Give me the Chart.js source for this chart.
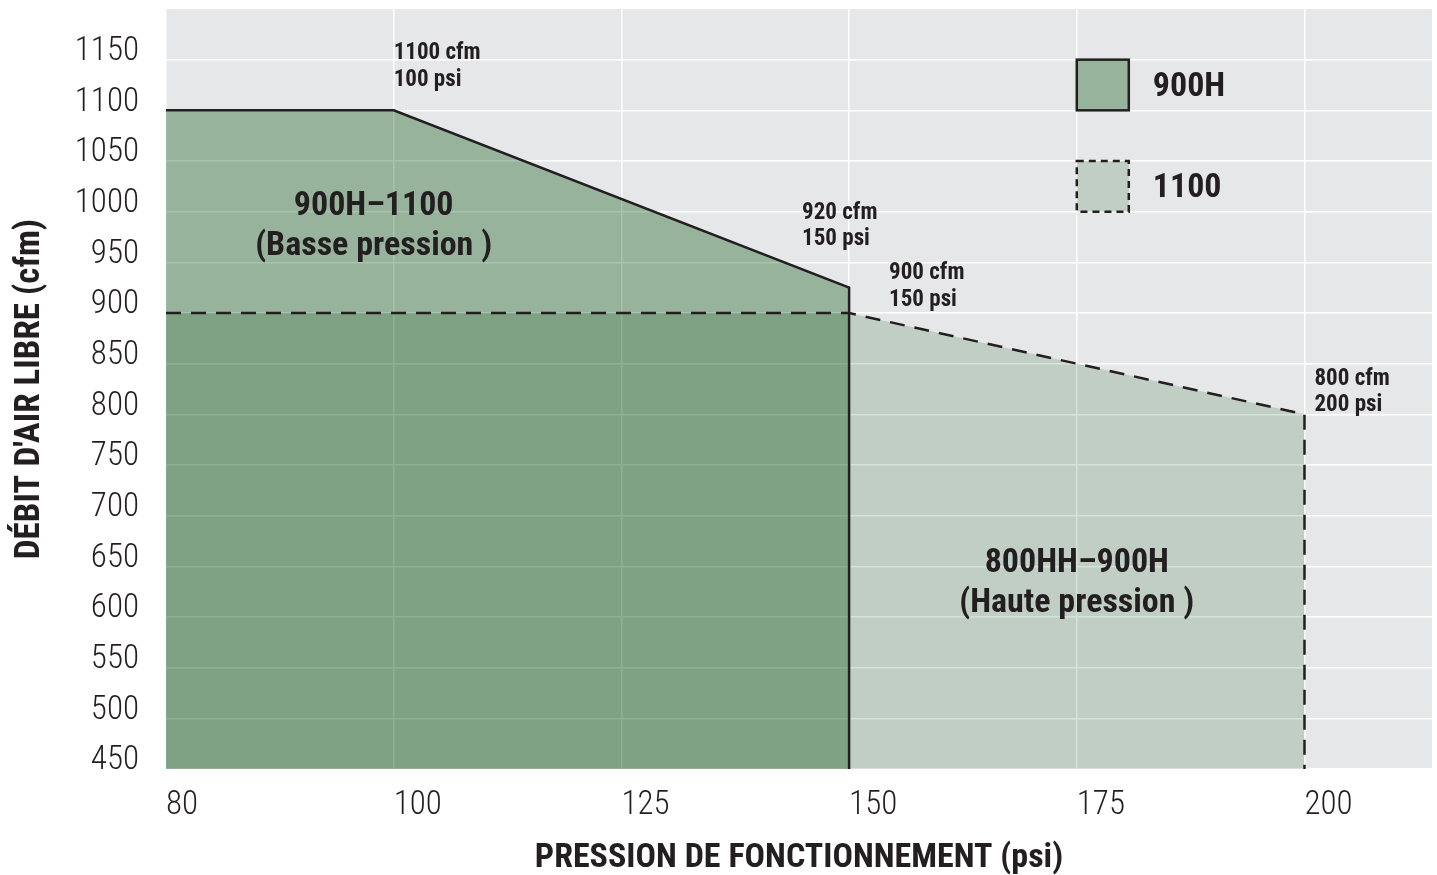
<!DOCTYPE html>
<html lang="fr">
<head>
  <meta charset="UTF-8">
  <title>Débit d'air libre / pression de fonctionnement</title>
  <script src="https://cdn.jsdelivr.net/npm/chart.js"></script>
  <style>
    html, body {
      margin: 0;
      padding: 0;
      background: #ffffff;
    }
    canvas {
      display: block;
    }
  </style>
</head>
<body>
  <canvas id="debitChart" width="1437" height="875"></canvas>

  <script>
    // values
    const pression900H = [75, 100, 150, 150];
    const debit900H = [1100, 1100, 925, 450];
    const pression1100 = [75, 150, 200, 200];
    const debit1100 = [900, 900, 800, 450];
    const seriesNames = ['900H', '1100'];

    const xTicks = [75, 100, 125, 150, 175, 200];
    const xTickLabels = ['80', '100', '125', '150', '175', '200'];
    const yTicks = [450, 500, 550, 600, 650, 700, 750, 800, 850, 900, 950, 1000, 1050, 1100, 1150];

    const INK = '#231f20';
    const FONT = '"Roboto Condensed", "DejaVu Sans Condensed", sans-serif';
    const fill900H = 'rgba(6, 84, 15, 0.35)';
    const fill1100 = 'rgba(6, 84, 15, 0.17)';

    function toPoints(xs, ys) {
      return xs.map((x, i) => ({ x: x, y: ys[i] }));
    }

    // grey plot background
    const plotBackground = {
      id: 'plotBackground',
      beforeDraw(chart) {
        const { ctx, chartArea: a } = chart;
        ctx.save();
        ctx.fillStyle = '#e6e7e9';
        ctx.fillRect(a.left, a.top, a.right - a.left, a.bottom - a.top);
        ctx.restore();
      }
    };

    // point labels, zone labels and the boxed legend
    const notes = {
      id: 'notes',
      afterDatasetsDraw(chart) {
        const { ctx, scales: { x, y } } = chart;
        ctx.save();
        ctx.fillStyle = INK;
        ctx.textBaseline = 'middle';

        const small = [
          { at: [100, 1100], dx: 0, dy: [-57, -30], lines: ['1100 cfm', '100 psi'] },
          { at: [150, 925], dx: -47, dy: [-74, -48], lines: ['920 cfm', '150 psi'] },
          { at: [150, 900], dx: 40, dy: [-40, -13], lines: ['900 cfm', '150 psi'] },
          { at: [200, 800], dx: 10, dy: [-35, -9], lines: ['800 cfm', '200 psi'] }
        ];
        ctx.font = 'bold 23px ' + FONT;
        ctx.textAlign = 'left';
        small.forEach(n => {
          const px = x.getPixelForValue(n.at[0]);
          const py = y.getPixelForValue(n.at[1]);
          n.lines.forEach((t, i) => ctx.fillText(t, px + n.dx, py + n.dy[i]));
        });

        const zones = [
          { at: [97.8, 988], lines: ['900H\u20131100', '(Basse pression )'] },
          { at: [175, 636], lines: ['800HH\u2013900H', '(Haute pression )'] }
        ];
        ctx.font = 'bold 34px ' + FONT;
        ctx.textAlign = 'center';
        zones.forEach(z => {
          const px = x.getPixelForValue(z.at[0]);
          const py = y.getPixelForValue(z.at[1]);
          ctx.fillText(z.lines[0], px, py - 17);
          ctx.fillText(z.lines[1], px, py + 23);
        });

        // legend
        const lx = x.getPixelForValue(175);
        const boxes = [
          { top: 1150, bottom: 1100, fill: fill900H, dash: [] },
          { top: 1050, bottom: 1000, fill: fill1100, dash: [7, 5] }
        ];
        boxes.forEach((b, i) => {
          const t = y.getPixelForValue(b.top);
          const btm = y.getPixelForValue(b.bottom);
          ctx.fillStyle = b.fill;
          ctx.fillRect(lx, t, 52, btm - t);
          ctx.setLineDash(b.dash);
          ctx.lineWidth = 2.5;
          ctx.strokeStyle = INK;
          ctx.strokeRect(lx, t, 52, btm - t);
          ctx.setLineDash([]);
          ctx.fillStyle = INK;
          ctx.textAlign = 'left';
          ctx.font = 'bold 34px ' + FONT;
          ctx.fillText(seriesNames[i], lx + 76, (t + btm) / 2 + 2);
        });
        ctx.restore();
      }
    };

    const ctx = document.getElementById('debitChart').getContext('2d');
    new Chart(ctx, {
      type: 'scatter',
      data: {
        datasets: [
          {
            label: seriesNames[1],
            data: toPoints(pression1100, debit1100),
            showLine: true,
            borderColor: INK,
            borderWidth: 2.5,
            borderDash: [15, 10],
            backgroundColor: fill1100,
            fill: 'start',
            pointRadius: 0,
            tension: 0
          },
          {
            label: seriesNames[0],
            data: toPoints(pression900H, debit900H),
            showLine: true,
            borderColor: INK,
            borderWidth: 2.5,
            backgroundColor: fill900H,
            fill: 'start',
            pointRadius: 0,
            tension: 0
          }
        ]
      },
      options: {
        responsive: false,
        animation: false,
        layout: { padding: { top: 9, right: 5, left: 0, bottom: 0 } },
        plugins: {
          legend: { display: false },
          tooltip: { enabled: false },
          filler: { drawTime: 'beforeDatasetsDraw' }
        },
        scales: {
          x: {
            type: 'linear',
            min: 75,
            max: 214,
            afterBuildTicks: s => { s.ticks = xTicks.map(v => ({ value: v })); },
            afterFit: s => {
              s.height = 106;
              s.paddingLeft = 0;
              s.paddingRight = 0;
            },
            border: { display: false },
            grid: { color: '#ffffff', lineWidth: 1.5, drawTicks: false },
            ticks: {
              align: 'start',
              padding: 17,
              color: INK,
              font: { family: FONT, size: 33, weight: '300' },
              callback: (v, i) => xTickLabels[i]
            },
            title: {
              display: true,
              text: 'PRESSION DE FONCTIONNEMENT (psi)',
              color: INK,
              font: { family: FONT, size: 34, weight: 'bold', lineHeight: 1 },
              padding: { top: 0, bottom: 0 }
            }
          },
          y: {
            min: 450,
            max: 1200,
            afterBuildTicks: s => { s.ticks = yTicks.map(v => ({ value: v })); },
            afterFit: s => {
              s.width = 166;
              s.paddingTop = 0;
              s.paddingBottom = 0;
            },
            border: { display: false },
            grid: { color: '#ffffff', lineWidth: 1.5, drawTicks: false },
            ticks: {
              padding: 27,
              labelOffset: -8,
              color: INK,
              font: { family: FONT, size: 33, weight: '300' },
              callback: v => String(v)
            },
            title: {
              display: true,
              text: "DÉBIT D'AIR LIBRE (cfm)",
              color: INK,
              font: { family: FONT, size: 35, weight: 'bold', lineHeight: 1 },
              padding: { top: 13, bottom: 0 }
            }
          }
        }
      },
      plugins: [plotBackground, notes]
    });
  </script>
</body>
</html>
